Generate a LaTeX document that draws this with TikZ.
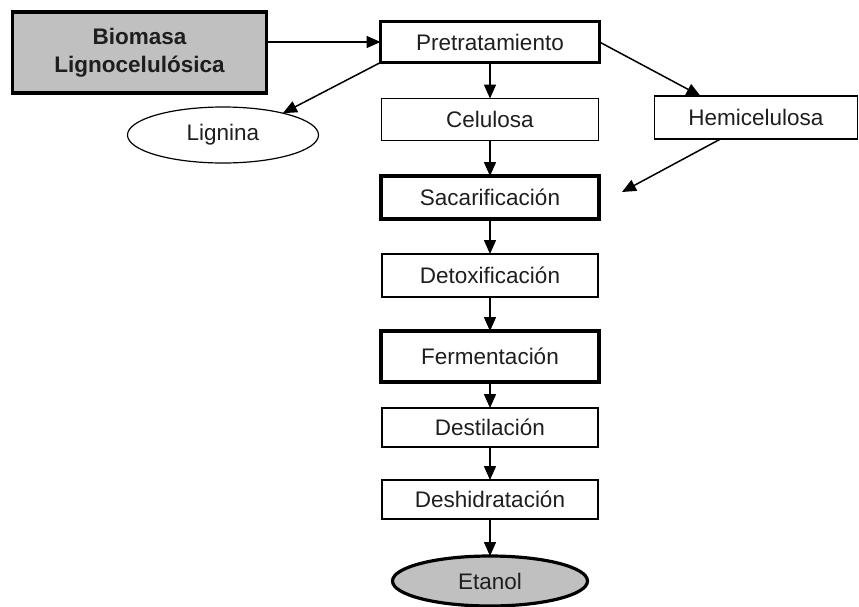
\documentclass[tikz,border=0pt]{standalone}
\usepackage{fontspec}
\setmainfont{Liberation Sans}
\usetikzlibrary{arrows.meta,shapes.geometric,calc}
\definecolor{boxgray}{RGB}{192,192,192}
\definecolor{txt}{RGB}{30,30,30}
\begin{document}
\begin{tikzpicture}[x=1pt,y=-1pt,
  every node/.style={inner sep=0pt,outer sep=0pt,text=txt,font=\fontsize{22.5}{27}\selectfont},
  thinbox/.style={draw=black,line width=1.2pt,rectangle},
  thickbox/.style={draw=black,line width=3.2pt,rectangle},
  arr/.style={line width=1.5pt,-{Triangle[length=14pt,width=12pt]}}
]
\useasboundingbox (0,0) rectangle (859,606);
\node[thickbox,fill=boxgray,minimum width=254pt,minimum height=81pt,align=center,font=\bfseries\fontsize{22.5}{28}\selectfont] (bio) at (139.5,52.5) {Biomasa\\Lignocelulósica};
\node[thickbox,minimum width=219pt,minimum height=41pt] (pre) at (490,42) {Pretratamiento};
\node[thinbox,minimum width=217pt,minimum height=42pt] (cel) at (490,119.5) {Celulosa};
\node[thinbox,minimum width=203pt,minimum height=43pt] (hem) at (756,117.5) {Hemicelulosa};
\node[thickbox,minimum width=218pt,minimum height=43pt] (sac) at (490,197.5) {Sacarificación};
\node[thinbox,minimum width=216pt,minimum height=43pt] (det) at (490,275.5) {Detoxificación};
\node[thickbox,minimum width=218pt,minimum height=51pt] (fer) at (490,356.5) {Fermentación};
\node[thinbox,minimum width=216pt,minimum height=39pt] (des) at (490,427.5) {Destilación};
\node[thinbox,minimum width=216pt,minimum height=39pt] (deh) at (490,499.5) {Deshidratación};
\node[draw=black,line width=3.2pt,ellipse,fill=boxgray,minimum width=195pt,minimum height=50pt] (eta) at (490,581) {Etanol};
\node[draw=black,line width=1.2pt,ellipse,minimum width=191pt,minimum height=56pt] (lig) at (223,135) {Lignina};
\coordinate (hemin) at (622,192);
\draw[arr] (bio.east |- pre.west) -- (pre.west);
\draw[arr] (pre.south west) -- (lig.20);
\draw[arr] (pre.east) -- ($(hem.north west)+(46,0)$);
\draw[arr] ($(hem.south west)+(66,0)$) -- (hemin);
\draw[arr] (pre) -- (cel);
\draw[arr] (cel) -- (sac);
\draw[arr] (sac) -- (det);
\draw[arr] (det) -- (fer);
\draw[arr] (fer) -- (des);
\draw[arr] (des) -- (deh);
\draw[arr] (deh) -- (eta);
\end{tikzpicture}
\end{document}
